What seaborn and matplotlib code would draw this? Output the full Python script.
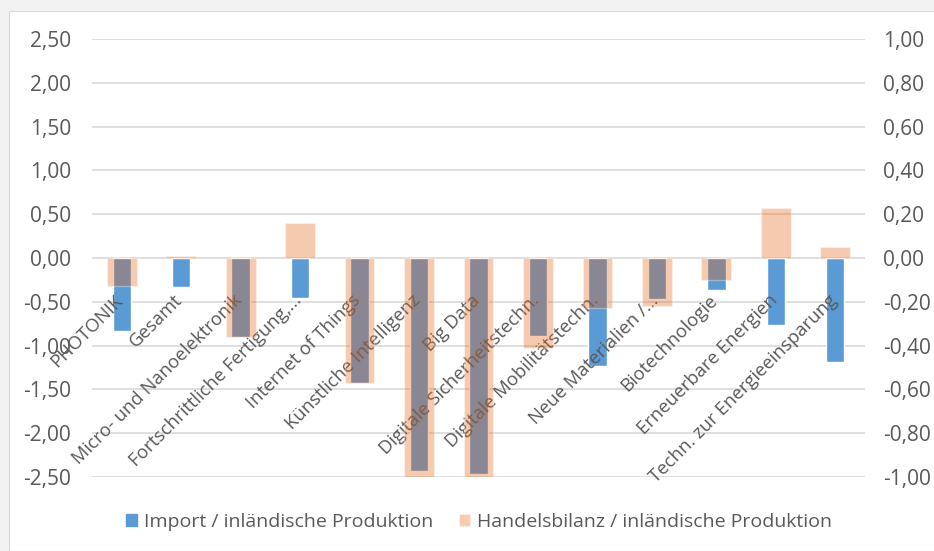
import matplotlib
matplotlib.use("Agg")
import matplotlib.pyplot as plt
import matplotlib.patches as mpatches
import matplotlib.transforms as mtransforms
import seaborn as sns
import pandas as pd
import numpy as np

# =========================
# Data
# =========================
categories = [
    "PHOTONIK", "Gesamt", "Micro- und Nanoelektronik", "Fortschrittliche Fertigung,...",
    "Internet of Things", "Künstliche Intelligenz", "Big Data",
    "Digitale Sicherheitstechn.", "Digitale Mobilitätstechn.", "Neue Materialien /...",
    "Biotechnologie", "Erneuerbare Energien", "Techn. zur Energieeinsparung",
]
import_ratio = [-0.83, -0.33, -0.90, -0.46, -1.43, -2.43, -2.47,
                -0.89, -1.23, -0.47, -0.36, -0.76, -1.19]
trade_balance = [-0.13, 0.01, -0.36, 0.16, -0.57, -1.00, -1.00,
                 -0.41, -0.23, -0.22, -0.10, 0.23, 0.05]

left_ticks = [2.5, 2.0, 1.5, 1.0, 0.5, 0.0, -0.5, -1.0, -1.5, -2.0, -2.5]
right_ticks = [1.0, 0.8, 0.6, 0.4, 0.2, 0.0, -0.2, -0.4, -0.6, -0.8, -1.0]

label_import = "Import / inländische Produktion"
label_trade = "Handelsbilanz / inländische Produktion"

df = pd.DataFrame({"Kategorie": categories, "Import": import_ratio, "Handel": trade_balance})

# =========================
# Style
# =========================
sns.set_theme(style="white")
plt.rcParams["font.family"] = ["Open Sans", "DejaVu Sans"]

blue = "#5B9BD5"
orange = "#E5600E"
grid_col = "#D9D9D9"
text_col = "#595959"

fig = plt.figure(figsize=(9.34, 5.51), dpi=100)
fig.patch.set_facecolor("#F2F2F2")
frame = mpatches.Rectangle((9 / 934, 0), 1, 1 - 11 / 551, transform=fig.transFigure,
                           facecolor="white", edgecolor="#DADADA", lw=0.8, zorder=-10)
fig.patches.append(frame)
ax = fig.add_axes([92 / 934, 1 - 477 / 551, 773 / 934, 438 / 551])
ax.set_facecolor("none")

# primary axis: import ratio (narrow blue bars)
sns.barplot(data=df, x="Kategorie", y="Import", color=blue, width=0.31,
            saturation=1, ax=ax, zorder=2)
ax.set_ylim(-2.5, 2.5)
ax.set_yticks(left_ticks)
ax.set_yticklabels([f"{t:.2f}".replace(".", ",") for t in left_ticks])
ax.yaxis.grid(True, color=grid_col, lw=1.2)
ax.set_axisbelow(True)
ax.set_xlabel("")
ax.set_ylabel("")

# secondary axis: trade balance (wide transparent orange bars on top)
ax2 = ax.twinx()
sns.barplot(data=df, x="Kategorie", y="Handel", color=orange, width=0.5,
            saturation=1, alpha=0.33, ax=ax2, zorder=2)
ax2.set_ylim(-1.0, 1.0)
ax2.set_yticks(right_ticks)
ax2.set_yticklabels([f"{t:.2f}".replace(".", ",") for t in right_ticks])
ax2.set_ylabel("")
ax2.set_xlabel("")

for a in (ax, ax2):
    for s in a.spines.values():
        s.set_visible(False)
ax.tick_params(axis="y", length=0, labelsize=15, labelcolor=text_col, pad=15)
ax2.tick_params(axis="y", length=0, labelsize=15, labelcolor=text_col, pad=13)

# category labels at the zero line, on top of the bars
ax.tick_params(axis="x", labelbottom=False, length=0)
ax2.xaxis.set_visible(True)
ax2.spines["bottom"].set_position(("data", 0))
ax2.set_xticks(range(len(categories)))
ax2.set_xticklabels(categories, rotation=45, ha="right", rotation_mode="anchor")
ax2.tick_params(axis="x", length=0, labelsize=13.3, labelcolor=text_col, pad=24,
                labelbottom=True)
ax2.set_xlim(-0.5, len(categories) - 0.5)
offset = mtransforms.ScaledTranslation(-5.5 / 72, 0, fig.dpi_scale_trans)
for lab in ax2.get_xticklabels():
    lab.set_transform(lab.get_transform() + offset)

# legend
handles = [mpatches.Patch(color=blue, label=label_import),
           mpatches.Patch(facecolor=orange, alpha=0.33, label=label_trade)]
fig.legend(handles=handles, loc="center", bbox_to_anchor=(0.513, 1 - 522 / 551), ncol=2,
           frameon=False, handlelength=0.55, handleheight=0.55, handletextpad=0.4,
           columnspacing=1.3, prop={"size": 14}, labelcolor=text_col)

fig.savefig("out.png", dpi=100, facecolor=fig.get_facecolor())
